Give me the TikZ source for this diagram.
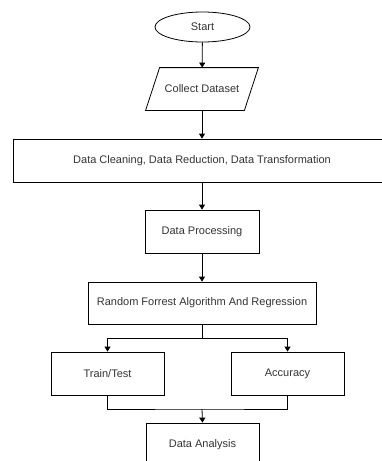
\documentclass[tikz,border=0pt]{standalone}
\usepackage{fontspec}
\setmainfont{Liberation Sans}
\usetikzlibrary{arrows.meta,positioning,calc,shapes.geometric}

\begin{document}
\begin{tikzpicture}[x=1pt,y=1pt,
  box/.style={draw,line width=0.8pt,minimum height=43pt,inner sep=0pt,text=black!80,font=\fontsize{11}{13}\selectfont},
  arr/.style={-{Triangle[width=6pt,length=5pt]},line width=0.8pt},
  link/.style={line width=0.8pt}]
\useasboundingbox (0,0) rectangle (382,-461);
\node[box,ellipse,minimum width=95pt,minimum height=30pt] (start) at (202.5,-27) {Start};
\node[box,draw=none,minimum width=98pt,minimum height=42pt] (collect) at (202,-89) {Collect Dataset};
\draw[link] ($(collect.south west)+(-7,0)$) -- ($(collect.north west)+(7,0)$)
  -- ($(collect.north east)+(7,0)$) -- ($(collect.south east)+(-7,0)$) -- cycle;
\node[box,minimum width=378pt] (clean) at (202,-160.5) {Data Cleaning, Data Reduction, Data Transformation};
\node[box,minimum width=114pt] (proc) at (202,-231.5) {Data Processing};
\node[box,minimum width=228pt,minimum height=42pt] (rf) at (202,-303) {Random Forrest Algorithm And Regression};
\node[box,minimum width=113pt] (train) at (107.5,-373.5) {Train/Test};
\node[box,minimum width=113pt] (acc) at (287.5,-373.5) {Accuracy};
\node[box,minimum width=113pt] (ana) at (202.5,-444.5) {Data Analysis};
\coordinate (split) at (202,-338);
\coordinate (join) at (202,-409);

\draw[arr] (start) -- (collect);
\draw[arr] (collect) -- (clean);
\draw[arr] (clean) -- (proc);
\draw[arr] (proc) -- (rf);
\draw[link] (rf.south) -- (split);
\draw[arr] (split) -| (train.north);
\draw[arr] (split) -| (acc.north);
\draw[link] (train.south) |- (join) -| (acc.south);
\draw[arr] (join) -- (ana.north);
\end{tikzpicture}
\end{document}
